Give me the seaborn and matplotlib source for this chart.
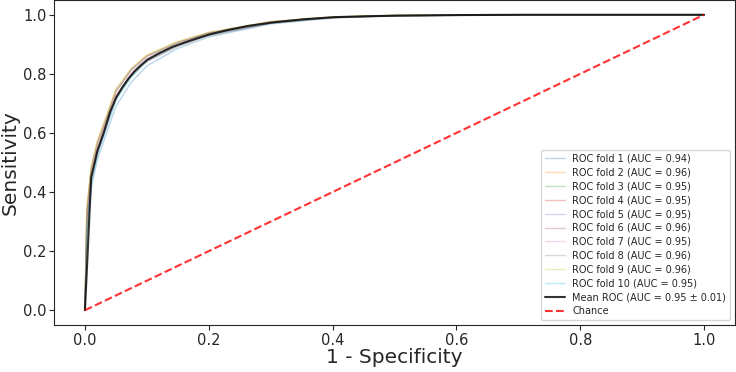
import matplotlib
matplotlib.use("Agg")
import matplotlib.pyplot as plt
import seaborn as sns
import pandas as pd

# false positive rate grid shared by the fold curves
FOLD_FPR = [0, 0.003, 0.01, 0.02, 0.03, 0.05, 0.075, 0.1, 0.15, 0.2, 0.3, 0.4, 0.5, 0.7, 1.0]

fold_tpr = {
    1: [0, 0.25, 0.41, 0.51, 0.57, 0.69, 0.772, 0.827, 0.886, 0.925, 0.969, 0.989, 0.996, 1.0, 1.0],
    2: [0, 0.34, 0.48, 0.57, 0.63, 0.745, 0.817, 0.862, 0.908, 0.939, 0.976, 0.992, 0.998, 1.0, 1.0],
    3: [0, 0.29, 0.44, 0.535, 0.60, 0.72, 0.792, 0.847, 0.898, 0.933, 0.973, 0.991, 0.997, 1.0, 1.0],
    4: [0, 0.31, 0.455, 0.545, 0.61, 0.725, 0.797, 0.842, 0.893, 0.930, 0.971, 0.990, 0.997, 1.0, 1.0],
    5: [0, 0.28, 0.435, 0.53, 0.59, 0.715, 0.797, 0.847, 0.900, 0.935, 0.974, 0.991, 0.997, 1.0, 1.0],
    6: [0, 0.33, 0.475, 0.56, 0.62, 0.74, 0.812, 0.859, 0.906, 0.938, 0.976, 0.992, 0.998, 1.0, 1.0],
    7: [0, 0.30, 0.455, 0.54, 0.605, 0.725, 0.802, 0.852, 0.898, 0.933, 0.973, 0.991, 0.997, 1.0, 1.0],
    8: [0, 0.335, 0.48, 0.565, 0.62, 0.74, 0.815, 0.859, 0.906, 0.939, 0.976, 0.992, 0.998, 1.0, 1.0],
    9: [0, 0.35, 0.485, 0.575, 0.63, 0.75, 0.819, 0.865, 0.910, 0.941, 0.977, 0.993, 0.998, 1.0, 1.0],
    10: [0, 0.27, 0.43, 0.525, 0.588, 0.71, 0.789, 0.842, 0.894, 0.930, 0.971, 0.990, 0.997, 1.0, 1.0],
}
fold_auc = [0.94, 0.96, 0.95, 0.95, 0.95, 0.96, 0.95, 0.96, 0.96, 0.95]

MEAN_FPR = [0, 0.0101, 0.0202, 0.0303, 0.0404, 0.0505, 0.0606, 0.0707, 0.0808, 0.0909,
            0.101, 0.121, 0.141, 0.162, 0.182, 0.202, 0.232, 0.263, 0.303, 0.354,
            0.404, 0.455, 0.505, 0.606, 0.707, 1.0]
MEAN_TPR = [0, 0.45, 0.54, 0.60, 0.67, 0.72, 0.755, 0.785, 0.81, 0.83,
            0.848, 0.871, 0.891, 0.907, 0.921, 0.934, 0.949, 0.962, 0.974, 0.985,
            0.992, 0.995, 0.997, 0.999, 1.0, 1.0]
mean_auc, std_auc = 0.95, 0.01

sns.set_style("ticks")
plt.rcParams['font.family'] = ['DejaVu Sans']

fig = plt.figure(figsize=(7.36, 3.72), dpi=100)
ax = fig.add_axes([54 / 736, 47 / 372, 681 / 736, 325 / 372])

palette = sns.color_palette("tab10", 10)
for i, (k, tpr) in enumerate(fold_tpr.items()):
    df = pd.DataFrame({"fpr": FOLD_FPR, "tpr": tpr})
    sns.lineplot(data=df, x="fpr", y="tpr", ax=ax, color=palette[i], lw=1, alpha=0.3,
                 estimator=None, sort=False,
                 label=f"ROC fold {k} (AUC = {fold_auc[i]:.2f})")

mean_df = pd.DataFrame({"fpr": MEAN_FPR, "tpr": MEAN_TPR})
sns.lineplot(data=mean_df, x="fpr", y="tpr", ax=ax, color="k", lw=1.5, alpha=0.8,
             estimator=None, sort=False,
             label=f"Mean ROC (AUC = {mean_auc:.2f} \u00b1 {std_auc:.2f})")

chance_df = pd.DataFrame({"fpr": [0, 1], "tpr": [0, 1]})
sns.lineplot(data=chance_df, x="fpr", y="tpr", ax=ax, color="r", lw=1.5, alpha=0.8,
             linestyle="--", estimator=None, sort=False, label="Chance")

ax.set_xlim(-0.05, 1.05)
ax.set_ylim(-0.05, 1.05)
ax.set_xlabel("1 - Specificity", fontsize=14.5, labelpad=0)
ax.set_ylabel("Sensitivity", fontsize=14.5, labelpad=2)
ax.tick_params(labelsize=10.5, pad=2)
ax.legend(loc="lower right", fontsize=7, labelspacing=0.4)

fig.savefig("out.png", dpi=100)
